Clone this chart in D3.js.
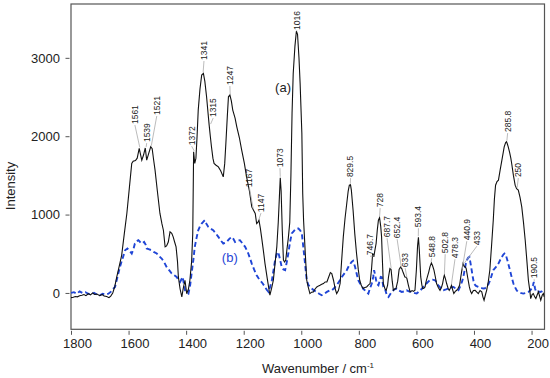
<!DOCTYPE html>
<html>
<head>
<meta charset="utf-8">
<script src="https://cdn.jsdelivr.net/npm/d3@7"></script>
<style>
  body { margin: 0; background: #fff; }
  svg text { font-family: "Liberation Sans", Arial, sans-serif; }
</style>
</head>
<body>
<svg width="550" height="378"></svg>
<script>
// spectrum (a): [wavenumber, intensity]
var spectrumA = [
  [1800,-60],[1792,-55],[1785,-45],[1778,-50],[1770,-35],[1762,-30],[1755,-20],[1748,-35],[1740,-10],[1732,-25],
  [1725,0],[1718,-20],[1710,-15],[1700,-35],[1692,-20],[1685,-40],[1676,-45],[1668,-60],[1662,-40],[1655,0],
  [1648,80],[1641,204],[1632,350],[1624,480],[1615,750],[1606,1014],[1597,1350],[1589,1652],[1584,1680],[1576,1690],
  [1570,1720],[1563,1844],[1558,1760],[1554,1695],[1548,1760],[1542,1850],[1537,1695],[1530,1780],[1523,1865],[1518,1840],
  [1513,1700],[1508,1567],[1500,1300],[1491,1014],[1484,880],[1479,800],[1473,588],[1468,600],[1462,650],[1456,779],
  [1450,760],[1445,715],[1440,650],[1435,588],[1430,400],[1427,204],[1421,50],[1415,-51],[1410,60],[1404,162],
  [1398,-8],[1392,50],[1387,162],[1381,400],[1377,759],[1374,1800],[1370,1652],[1366,1720],[1362,2000],[1358,2333],
  [1352,2600],[1346,2780],[1340,2802],[1335,2700],[1329,2503],[1324,2300],[1320,2142],[1316,2000],[1312,1865],[1307,1720],
  [1303,1652],[1296,1630],[1288,1609],[1280,1560],[1271,1481],[1266,1650],[1262,1908],[1257,2250],[1253,2503],[1248,2525],
  [1243,2450],[1238,2333],[1230,2230],[1224,2120],[1215,1980],[1207,1822],[1198,1660],[1190,1481],[1180,1300],[1172,1098],
  [1165,1050],[1160,1014],[1155,886],[1151,900],[1147,928],[1142,820],[1138,715],[1132,550],[1126,375],[1118,180],
  [1109,-29],[1103,60],[1097,162],[1091,380],[1085,588],[1080,900],[1076,1226],[1073,1470],[1070,1300],[1066,800],
  [1062,418],[1058,396],[1054,420],[1050,550],[1045,700],[1040,900],[1036,1500],[1032,2300],[1028,2800],[1022,3150],
  [1017,3340],[1013,3300],[1008,3000],[1004,2674],[998,2040],[995,1270],[992,928],[986,500],[981,162],[976,77],
  [970,-8],[964,10],[958,13],[952,50],[946,77],[940,90],[935,98],[929,110],[923,120],[917,140],
  [911,141],[905,200],[899,260],[894,248],[888,162],[882,50],[877,-8],[871,30],[865,120],[860,400],
  [854,715],[848,950],[842,1142],[837,1300],[833,1375],[829,1380],[826,1312],[820,1056],[814,750],[808,503],
  [802,300],[797,162],[791,90],[785,56],[779,70],[773,77],[767,100],[761,120],[756,300],[752,503],
  [748,460],[744,550],[740,631],[736,800],[732,928],[728,960],[724,850],[721,715],[718,400],[715,120],
  [710,60],[705,34],[700,100],[697,204],[692,311],[688,300],[684,150],[680,34],[676,50],[671,56],
  [665,150],[660,300],[655,330],[651,311],[646,260],[640,204],[636,200],[633,184],[628,100],[622,13],
  [615,30],[610,20],[605,34],[600,300],[596,600],[593,710],[590,550],[585,204],[581,100],[578,56],
  [574,60],[570,77],[566,150],[562,204],[557,270],[553,332],[548,383],[544,350],[539,290],[534,200],
  [530,120],[524,70],[518,34],[513,70],[509,120],[505,200],[503,226],[499,180],[495,120],[490,60],
  [486,34],[482,60],[478,98],[474,40],[470,-8],[465,20],[460,34],[455,60],[450,98],[446,200],
  [442,290],[438,375],[434,340],[430,332],[427,311],[422,200],[416,77],[412,20],[408,-8],[402,30],
  [396,34],[390,10],[385,-8],[379,30],[373,13],[369,-50],[365,-93],[360,-20],[356,34],[350,150],
  [345,290],[339,600],[333,928],[329,1200],[325,1375],[320,1420],[315,1439],[309,1570],[303,1695],[298,1800],
  [295,1865],[290,1920],[287,1929],[284,1900],[281,1865],[276,1790],[272,1720],[269,1652],[263,1500],[257,1375],
  [252,1330],[246,1312],[240,1220],[234,1098],[228,900],[222,673],[216,400],[211,162],[206,30],[203,-72],
  [198,-20],[194,-8],[189,-50],[185,-72],[180,-20],[176,13],[172,-40],[168,-93],[163,-30],[159,-8],[156,-50]
];

// spectrum (b): [wavenumber, intensity]
var spectrumB = [
  [1800,0],[1790,10],[1780,-10],[1770,20],[1760,0],[1750,10],[1740,-10],[1730,-20],[1720,0],[1710,-20],
  [1700,-30],[1690,-10],[1680,-20],[1670,-10],[1660,20],[1654,50],[1647,77],[1640,180],[1630,332],[1620,450],
  [1612,545],[1604,567],[1597,540],[1589,503],[1583,560],[1578,631],[1572,660],[1566,673],[1560,650],[1554,631],
  [1546,651],[1540,610],[1537,567],[1528,555],[1520,545],[1511,520],[1502,503],[1494,470],[1485,439],[1476,390],
  [1468,332],[1459,290],[1450,248],[1441,225],[1433,204],[1427,170],[1421,141],[1412,204],[1404,34],[1398,10],
  [1392,-8],[1386,100],[1381,248],[1375,420],[1370,588],[1364,700],[1358,800],[1352,850],[1346,886],[1340,910],
  [1335,928],[1329,880],[1323,843],[1315,820],[1306,800],[1297,760],[1288,715],[1280,670],[1271,631],[1265,640],
  [1259,651],[1250,690],[1242,715],[1236,690],[1230,651],[1222,665],[1213,673],[1204,630],[1195,588],[1184,503],
  [1178,440],[1172,375],[1164,300],[1155,226],[1149,190],[1143,162],[1134,120],[1126,77],[1120,40],[1114,13],
  [1108,80],[1102,162],[1096,300],[1091,418],[1085,500],[1080,524],[1074,430],[1068,332],[1062,300],[1056,290],
  [1050,400],[1045,503],[1039,650],[1033,759],[1026,790],[1020,815],[1016,822],[1010,822],[1004,800],[998,759],
  [993,588],[987,375],[981,162],[975,100],[970,77],[964,56],[955,30],[946,13],[938,-10],[929,-29],
  [920,-10],[911,13],[902,30],[894,34],[886,60],[877,98],[868,150],[859,204],[850,250],[842,290],
  [834,350],[825,396],[820,410],[813,332],[808,250],[802,162],[796,120],[790,98],[785,50],[779,34],
  [773,10],[767,-8],[761,60],[755,120],[750,204],[747,290],[743,220],[740,162],[736,110],[732,98],
  [728,150],[724,204],[720,200],[715,77],[709,50],[703,-29],[697,-51],[690,-10],[685,20],[680,34],
  [674,50],[668,56],[660,30],[651,13],[642,20],[634,34],[626,20],[617,13],[608,0],[599,-8],
  [590,20],[582,50],[576,77],[568,110],[560,140],[553,162],[544,170],[535,162],[529,130],[524,98],
  [515,60],[506,34],[497,45],[489,56],[480,70],[471,77],[462,50],[454,34],[446,100],[441,150],
  [437,204],[432,300],[428,380],[425,418],[420,450],[416,460],[412,380],[408,290],[404,200],[400,120],
  [393,90],[385,77],[376,65],[368,56],[362,60],[356,77],[350,110],[344,162],[339,220],[333,290],
  [324,330],[315,375],[309,420],[303,460],[298,490],[294,503],[290,490],[284,418],[280,360],[275,290],
  [269,200],[263,120],[257,70],[251,30],[246,13],[238,0],[229,-8],[220,0],[211,13],[205,30],
  [200,56],[195,100],[192,141],[188,60],[184.5,13],[177,20],[170,13],[164,20],[159,34],[156,30]
];

// peak annotations
var peakNames  = ["1561","1539","1521","1372","1341","1315","1247","1167","1147","1073","1016","829.5","746.7","728",
                  "687.7","652.4","633","593.4","548.8","502.8","478.3","440.9","433","285.8","250","190.5"];
var peakHeight = [1844,1850,1865,1800,2802,2142,2525,1060,928,1470,3340,1380,460,960,
                  300,311,184,710,383,226,98,290,370,1929,1330,141];
// where each label sits (wavenumber, intensity at the bottom of the text)
var labelWn    = [1578,1537,1502,1381,1338,1306,1248,1180,1140,1074,1016,829,761,726,
                  702,667,639,593,547,500,466,425,390,283,246,191];
var labelInt   = [2155,1925,2270,1886,2972,2244,2653,1350,1031,1605,3355,1478,481,1095,
                  711,699,328,839,456,507,443,673,609,2053,1478,188];

var xTicks = [1800,1600,1400,1200,1000,800,600,400,200];
var yTicks = [0,1000,2000,3000];

function render() {
    var svg = d3.select("svg"),
        margin = {left: 71, right: 5.5, top: 4, bottom: 48.7},
        width = svg.attr("width") - margin.left - margin.right,
        height = svg.attr("height") - margin.top - margin.bottom;

    var g = svg.append("g")
               .attr("transform", `translate(${margin.left},${margin.top})`);

    var xScale = d3.scaleLinear().domain([1800, 155]).range([0, width]),
        yScale = d3.scaleLinear().domain([-464, 3687]).range([height, 0]);

    g.append("clipPath").attr("id", "clip")
     .append("rect").attr("width", width).attr("height", height);

    // x axis (ticks sit just below the frame)
    var xAxis = g.append("g")
        .attr("transform", `translate(0, ${height + 1.5})`)
        .call(d3.axisBottom(xScale).tickValues(xTicks).tickSize(4).tickFormat(d3.format("d")));
    xAxis.select(".domain").remove();
    xAxis.selectAll(".tick line").attr("stroke", "#555");
    xAxis.selectAll(".tick text")
        .attr("dx", 6).attr("y", 8)
        .style("font-size", "13px").attr("fill", "#222");

    var yAxis = g.append("g")
        .attr("transform", "translate(-1.5, 0)")
        .call(d3.axisLeft(yScale).tickValues(yTicks).tickSize(4).tickFormat(d3.format("d")));
    yAxis.select(".domain").remove();
    yAxis.selectAll(".tick line").attr("stroke", "#555");
    yAxis.selectAll(".tick text")
        .attr("x", -9.5)
        .style("font-size", "13px").attr("fill", "#222");

    // frame
    g.append("rect")
        .attr("width", width).attr("height", height)
        .attr("fill", "none").attr("stroke", "#555").attr("stroke-width", 1.2);

    var line = d3.line()
        .x(function(d) { return xScale(d[0]); })
        .y(function(d) { return yScale(d[1]); });

    var plot = g.append("g").attr("clip-path", "url(#clip)");

    plot.append("path")
        .datum(spectrumB)
        .attr("d", line)
        .attr("fill", "none")
        .attr("stroke", "#1f45d6")
        .attr("stroke-width", 1.9)
        .attr("stroke-dasharray", "5,3");

    plot.append("path")
        .datum(spectrumA)
        .attr("d", line)
        .attr("fill", "none")
        .attr("stroke", "#111")
        .attr("stroke-width", 1.1);

    // leader lines and peak labels
    var peaks = peakNames.map(function(n, i) {
        return {name: n, wn: +n, h: peakHeight[i], lx: labelWn[i], ly: labelInt[i]};
    });

    g.selectAll(".leader")
        .data(peaks)
        .enter().append("line")
        .attr("class", "leader")
        .attr("x1", function(d) { return xScale(d.lx); })
        .attr("y1", function(d) { return yScale(d.ly) + 1; })
        .attr("x2", function(d) { return xScale(d.wn); })
        .attr("y2", function(d) { return yScale(d.h) - 1; })
        .attr("stroke", "#aaa")
        .attr("stroke-width", 0.8);

    g.selectAll(".peak")
        .data(peaks)
        .enter().append("text")
        .attr("class", "peak")
        .attr("transform", function(d) {
            return "translate(" + xScale(d.lx) + "," + yScale(d.ly) + ") rotate(-90)";
        })
        .attr("dy", "0.35em")
        .style("font-size", "8.5px")
        .attr("fill", "#222")
        .text(function(d) { return d.name; });

    // series tags
    g.append("text")
        .attr("x", xScale(1091)).attr("y", yScale(2563))
        .style("font-size", "13px").attr("fill", "#222")
        .text("(a)");
    g.append("text")
        .attr("x", xScale(1276)).attr("y", yScale(392))
        .style("font-size", "13px").attr("fill", "#1f45d6")
        .text("(b)");

    // axis titles
    var xt = svg.append("text")
        .attr("x", 318).attr("y", 373)
        .style("text-anchor", "middle")
        .style("font-size", "13px").attr("fill", "#222")
        .text("Wavenumber / cm");
    xt.append("tspan")
        .attr("dy", -5)
        .style("font-size", "8px")
        .text("-1");

    svg.append("text")
        .attr("transform", "translate(15,186) rotate(-90)")
        .style("text-anchor", "middle")
        .style("font-size", "13px").attr("fill", "#222")
        .text("Intensity");
}

render();
</script>
</body>
</html>
